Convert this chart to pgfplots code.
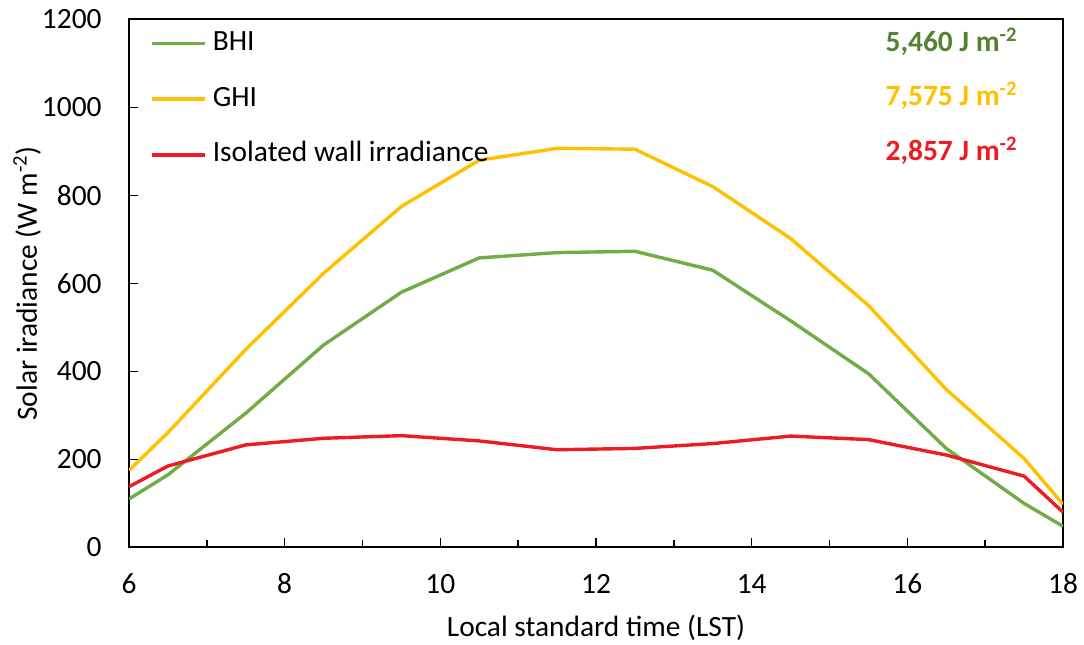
\documentclass[border=0pt]{standalone}
\usepackage{fontspec}
\setmainfont{Carlito}
\usepackage{pgfplots}
\pgfplotsset{compat=1.18}

\definecolor{bhi}{RGB}{112,173,71}
\definecolor{bhitext}{RGB}{84,130,53}
\definecolor{ghi}{RGB}{255,192,0}
\definecolor{wall}{RGB}{237,28,36}

\newcommand{\chartfont}{\fontsize{14.7}{17.6}\selectfont}

\begin{document}
\chartfont
\begin{tikzpicture}
\begin{axis}[
  scale only axis,
  width=467pt, height=264pt,
  xmin=6, xmax=18, ymin=0, ymax=1200,
  xtick={6,8,...,18},
  minor xtick={7,9,...,17},
  ytick={0,200,...,1200},
  tick pos=left,
  tick align=inside,
  major tick length=4.5pt,
  minor tick length=3.5pt,
  every tick/.style={black, line width=0.8pt},
  axis line style={line width=1pt},
  /pgf/number format/assume math mode=true,
  /pgf/number format/1000 sep={},
  ticklabel style={font=\chartfont, inner sep=1pt},
  xticklabel style={anchor=base, yshift=-23pt},
  yticklabel style={anchor=east, xshift=-12.5pt},
  xlabel={Local standard time (LST)},
  ylabel={Solar iradiance (W m\textsuperscript{-2})},
  every axis x label/.style={at={(axis description cs:0.5,0)}, anchor=base,
    yshift=-44.5pt, inner sep=0pt, font=\chartfont},
  every axis y label/.style={at={(axis description cs:0,0.5)}, xshift=-46pt,
    rotate=90, anchor=base, inner sep=0pt, font=\chartfont},
  legend style={draw=none, fill=none, at={(axis cs:6.27,1176)}, anchor=north west,
    font=\chartfont, row sep=14.9pt, inner sep=0pt,
    nodes={inner sep=0pt, text height=10pt, text depth=3pt},
    cells={anchor=west}},
  legend image code/.code={\draw[#1] (0pt,0pt) -- (26.5pt,0pt);},
  every axis plot/.append style={line width=1.7pt},
]
\addplot[bhi] coordinates {
  (6,110) (6.5,165) (7.5,305) (8.5,460) (9.5,580) (10.5,658) (11.5,670)
  (12.5,673) (13.5,630) (14.5,515) (15.5,395) (16.5,225) (17.5,100) (18,48)};
\addlegendentry{\hspace{3pt}BHI}
\addplot[ghi] coordinates {
  (6,175) (6.5,261) (7.5,450) (8.5,623) (9.5,775) (10.5,880) (11.5,907)
  (12.5,905) (13.5,820) (14.5,702) (15.5,550) (16.5,359) (17.5,202) (18,98)};
\addlegendentry{\hspace{3pt}GHI}
\addplot[wall] coordinates {
  (6,138) (6.5,185) (7.5,233) (8.5,248) (9.5,254) (10.5,242) (11.5,222)
  (12.5,225) (13.5,236) (14.5,253) (15.5,245) (16.5,210) (17.5,162) (18,80)};
\addlegendentry{\hspace{3pt}Isolated wall irradiance}

% daily totals
\node[anchor=base east, inner sep=0pt, text=bhitext, font=\chartfont\bfseries] at (axis cs:17.42,1127) {5,460 J m\textsuperscript{-2}};
\node[anchor=base east, inner sep=0pt, text=ghi, font=\chartfont\bfseries] at (axis cs:17.42,1004) {7,575 J m\textsuperscript{-2}};
\node[anchor=base east, inner sep=0pt, text=wall, font=\chartfont\bfseries] at (axis cs:17.42,879) {2,857 J m\textsuperscript{-2}};
\end{axis}
\path (current axis.south west) ++(-64.5pt,-48.5pt) rectangle (current axis.north east) ++(10.5pt,9.7pt);
\end{tikzpicture}
\end{document}
